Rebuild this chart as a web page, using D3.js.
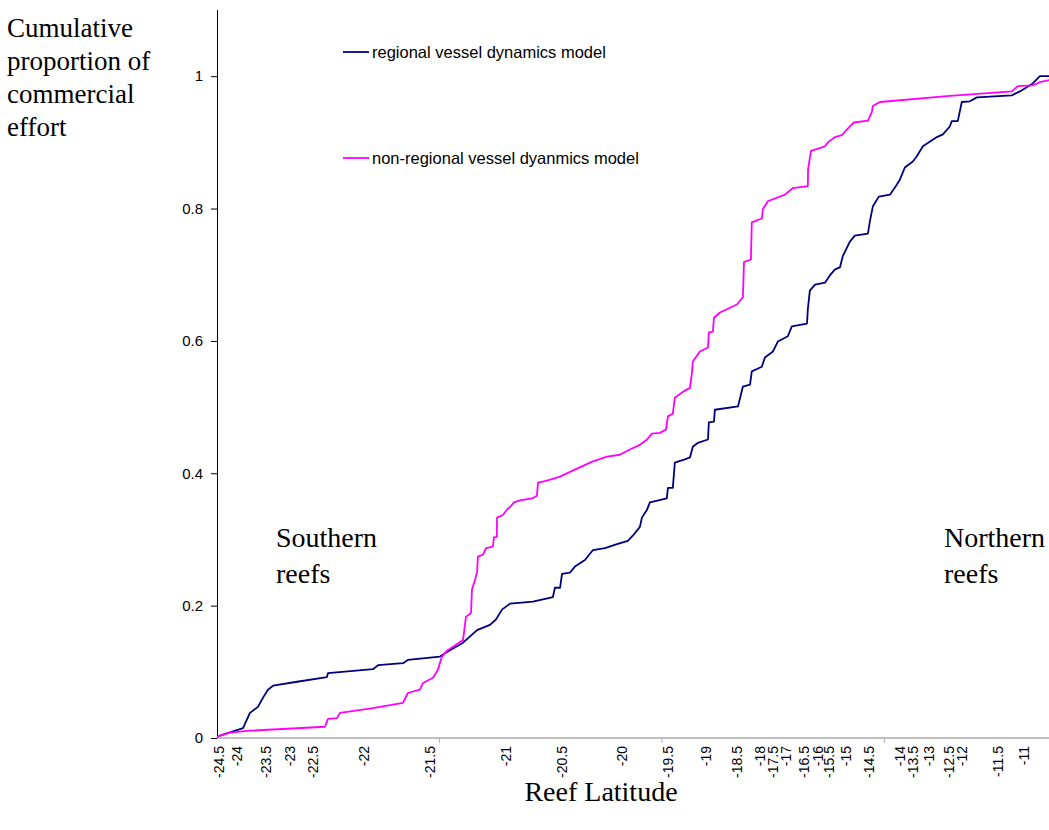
<!DOCTYPE html>
<html>
<head>
<meta charset="utf-8">
<script src="https://cdn.jsdelivr.net/npm/d3@7"></script>
<style>
  body { margin: 0; background: #fff; }
  svg { display: block; }
  .serif { font-family: "Liberation Serif", "Times New Roman", serif; }
  .sans { font-family: "Liberation Sans", Arial, sans-serif; }
</style>
</head>
<body>
<svg width="1049" height="830"></svg>
<script>
// reef rank (position along the category axis) where each latitude label sits
var tickLatitudes = ["-24.5","-24","-23.5","-23","-22.5","-22","-21.5","-21","-20.5","-20",
  "-19.5","-19","-18.5","-18","-17.5","-17","-16.5","-16","-15.5","-15","-14.5",
  "-14","-13.5","-13","-12.5","-12","-11.5","-11"];
var tickReefIndex = [1,9,22,33,43,66,96,130,155,182,203,220,234,244,250,256,264,270,275,283,293,
  307,313,320,329,335,351,363];

var yTicks = [0, 0.2, 0.4, 0.6, 0.8, 1];

// cumulative proportion of effort, [reef rank, proportion]
var regional = [
  [0,0.002],[11.7,0.015],[14.8,0.038],[18.4,0.047],[20.7,0.061],[22.9,0.073],[25.2,0.079],
  [36,0.085],[49.4,0.092],[49.9,0.098],[70.1,0.104],[72.4,0.11],[83.6,0.113],[85.8,0.118],
  [100.2,0.123],[103.4,0.13],[110.6,0.144],[116.9,0.163],[122.7,0.171],[125.4,0.179],
  [128.1,0.194],[131.7,0.203],[142,0.206],[151,0.213],[151.9,0.227],[154.2,0.227],[155.1,0.248],
  [158.7,0.25],[160.9,0.259],[165.4,0.269],[169,0.284],[174.4,0.287],[179.8,0.293],[184.7,0.298],
  [187,0.306],[190.1,0.319],[191,0.333],[193.3,0.345],[194.6,0.356],[202.2,0.362],[202.7,0.378],
  [204.9,0.378],[205.8,0.416],[210.3,0.421],[212.6,0.424],[213.9,0.44],[216.2,0.446],[220.7,0.451],
  [221.1,0.477],[223.4,0.478],[223.8,0.496],[234.2,0.501],[236.4,0.531],[239.6,0.534],[240.4,0.554],
  [244.9,0.561],[246.3,0.575],[249.9,0.584],[252.1,0.599],[256.6,0.607],[258.4,0.622],[265.2,0.626],
  [265.6,0.648],[266.5,0.676],[268.8,0.685],[273.3,0.688],[275.5,0.699],[277.8,0.708],[280,0.711],
  [281.3,0.728],[284.5,0.75],[286.7,0.759],[292.6,0.762],[293.5,0.781],[294.8,0.803],[297.5,0.818],
  [302.5,0.821],[305.2,0.834],[307,0.844],[309.2,0.862],[312.8,0.871],[314.6,0.879],[317.3,0.894],
  [323.6,0.908],[326.3,0.912],[329.4,0.924],[330.3,0.932],[333,0.932],[334.8,0.961],[338.4,0.962],
  [341.6,0.968],[357.3,0.971],[360.9,0.977],[366.7,0.989],[369.9,1],[374,1]
];

var nonRegional = [
  [0,0.002],[5.8,0.008],[14.8,0.011],[48.5,0.017],[49.9,0.029],[53.9,0.03],[55.3,0.038],
  [70.1,0.045],[83.6,0.053],[85.8,0.068],[91.2,0.073],[92.6,0.083],[97.1,0.091],[99.3,0.103],
  [101.1,0.123],[103.4,0.132],[110.6,0.148],[111.9,0.183],[114.2,0.189],[114.6,0.224],[116,0.239],
  [116.9,0.251],[117.3,0.274],[119.6,0.277],[120.9,0.287],[124,0.289],[124.5,0.303],[125.8,0.304],
  [125.9,0.333],[128.5,0.337],[130.3,0.345],[131.7,0.349],[133.5,0.356],[136.2,0.359],[141.6,0.362],
  [143.8,0.366],[144.3,0.386],[148.3,0.389],[154.2,0.395],[161.8,0.407],[169,0.418],[175.3,0.425],
  [181.1,0.428],[185.6,0.436],[190.1,0.443],[193.3,0.451],[195.5,0.46],[199.1,0.461],[201.8,0.466],
  [202.7,0.486],[204.9,0.49],[205.8,0.514],[209.4,0.523],[212.6,0.529],[213.5,0.552],[213.9,0.569],
  [217.1,0.584],[220.7,0.59],[221.1,0.613],[222.9,0.614],[223.4,0.635],[226.1,0.643],[233.7,0.655],
  [236.4,0.666],[236.9,0.719],[240,0.723],[240.4,0.779],[244.9,0.785],[245.4,0.799],[247.6,0.811],
  [255.3,0.821],[258.9,0.831],[265.6,0.834],[265.7,0.859],[267,0.887],[273.3,0.894],[274.6,0.9],
  [277.8,0.908],[280.9,0.911],[284.5,0.924],[286.3,0.93],[292.6,0.933],[294.4,0.946],[294.8,0.955],
  [298,0.961],[328.1,0.97],[357.3,0.977],[360,0.985],[366.7,0.986],[369.9,0.991],[374,0.994]
];

var seriesNames = ["regional vessel dynamics model", "non-regional vessel dyanmics model"];
var seriesColors = ["#000080", "#ff00ff"];

function drawChart() {
  var svg = d3.select("svg");
  var left = 217, right = 1049, top = 10, bottom = 738;

  var x = d3.scaleLinear().domain([0, 374]).range([left, right]);
  var y = d3.scaleLinear().domain([0, 1.1]).range([bottom, top]);

  // x axis: category style, grey line with marks every 100 reefs
  var xAxis = svg.append("g").attr("transform", "translate(0," + bottom + ")");
  xAxis.append("line")
    .attr("x1", left).attr("x2", right)
    .attr("stroke", "#808080").attr("stroke-width", 1);
  xAxis.selectAll(".mark")
    .data([100, 200, 300])
    .enter().append("line")
    .attr("x1", function(d) { return x(d); })
    .attr("x2", function(d) { return x(d); })
    .attr("y1", 0).attr("y2", 5)
    .attr("stroke", "#b0b0b0");
  xAxis.selectAll(".lab")
    .data(tickLatitudes)
    .enter().append("text")
    .attr("class", "sans")
    .attr("transform", function(d, i) { return "translate(" + x(tickReefIndex[i]) + ",8) rotate(-90)"; })
    .attr("text-anchor", "end")
    .attr("dy", "0.35em")
    .style("font-size", "14px")
    .text(function(d) { return d; });

  // y axis
  var yAxis = svg.append("g")
    .attr("class", "sans")
    .attr("transform", "translate(" + left + ",0)")
    .call(d3.axisLeft(y).tickValues(yTicks).tickSize(6).tickPadding(8)
      .tickFormat(function(d) { return d; }));
  yAxis.select(".domain").attr("d", "M0.5," + top + "V" + bottom).attr("stroke", "#000");
  yAxis.selectAll("text").style("font-size", "15px").attr("fill", "#000");
  yAxis.selectAll(".tick line").attr("stroke", "#000");

  var line = d3.line()
    .x(function(d) { return x(d[0]); })
    .y(function(d) { return y(d[1]); });

  [regional, nonRegional].forEach(function(s, i) {
    svg.append("path")
      .datum(s)
      .attr("d", line)
      .attr("fill", "none")
      .attr("stroke", seriesColors[i])
      .attr("stroke-width", 1.8)
      .attr("stroke-linejoin", "round");
  });

  // legend
  var legendY = [52, 158];
  seriesNames.forEach(function(name, i) {
    svg.append("line")
      .attr("x1", 343).attr("x2", 369)
      .attr("y1", legendY[i]).attr("y2", legendY[i])
      .attr("stroke", seriesColors[i]).attr("stroke-width", 1.8);
    svg.append("text")
      .attr("class", "sans")
      .attr("x", 372).attr("y", legendY[i] + 6)
      .style("font-size", "16.5px")
      .text(name);
  });

  // titles and annotations
  var yTitle = ["Cumulative", "proportion of", "commercial", "effort"];
  svg.append("text")
    .attr("class", "serif")
    .style("font-size", "27px")
    .selectAll("tspan")
    .data(yTitle)
    .enter().append("tspan")
    .attr("x", 7)
    .attr("y", function(d, i) { return 37 + i * 33; })
    .text(function(d) { return d; });

  svg.append("text")
    .attr("class", "serif")
    .attr("x", 601).attr("y", 801)
    .attr("text-anchor", "middle")
    .style("font-size", "28px")
    .text("Reef Latitude");

  [["Southern", 276], ["Northern", 944]].forEach(function(a) {
    var t = svg.append("text").attr("class", "serif").style("font-size", "28px");
    t.append("tspan").attr("x", a[1]).attr("y", 547).text(a[0]);
    t.append("tspan").attr("x", a[1]).attr("y", 583).text("reefs");
  });
}

drawChart();
</script>
</body>
</html>
